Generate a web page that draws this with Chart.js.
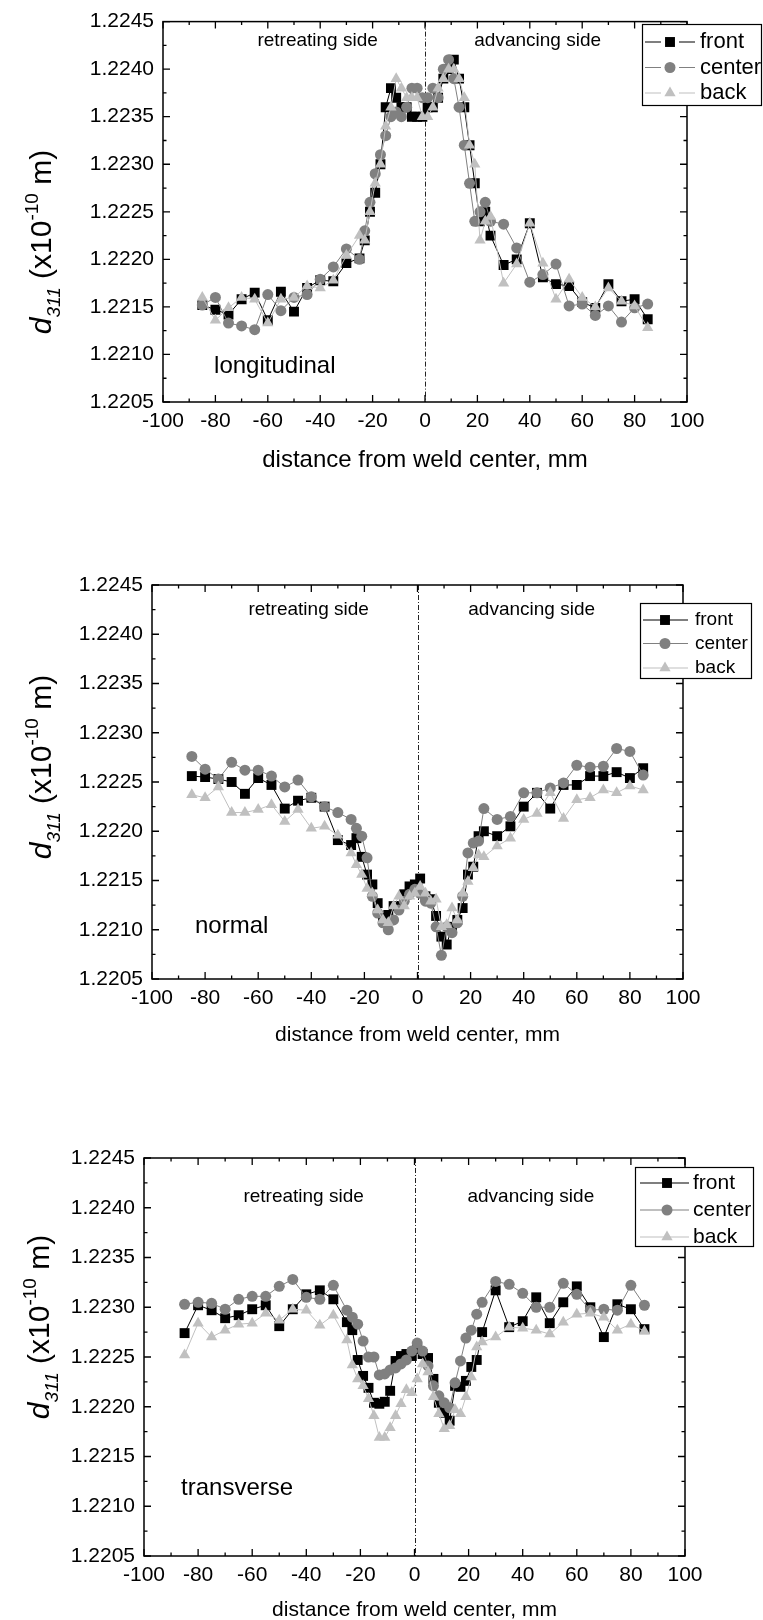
<!DOCTYPE html>
<html>
<head>
<meta charset="utf-8">
<script src="https://cdn.jsdelivr.net/npm/chart.js@4.4.1/dist/chart.umd.min.js"></script>
<style>
  html, body { margin: 0; padding: 0; background: #fff; }
  #wrap { position: relative; width: 763px; height: 1620px; }
  canvas { position: absolute; left: 0; }
</style>
</head>
<body>
<div id="wrap">
  <canvas id="c1" width="763" height="540" style="top:0px"></canvas>
  <canvas id="c2" width="763" height="540" style="top:540px"></canvas>
  <canvas id="c3" width="763" height="540" style="top:1080px"></canvas>
</div>
<script>
/* ============================================
   DATA
   ============================================ */

const xTicks = [-100, -80, -60, -40, -20, 0, 20, 40, 60, 80, 100];
const yTicks = [1.2205, 1.2210, 1.2215, 1.2220, 1.2225, 1.2230, 1.2235, 1.2240, 1.2245];
const seriesNames = ["front", "center", "back"];
const panelNames = ["longitudinal", "normal", "transverse"];

// measurement positions, mm
const xPos = [-85, -80, -75, -70, -65, -60, -55, -50, -45, -40, -35, -30, -25,
  -23, -21, -19, -17, -15, -13, -11, -9, -7, -5, -3, -1,
  1, 3, 5, 7, 9, 11, 13, 15, 17, 19, 21, 23,
  25, 30, 35, 40, 45, 50, 55, 60, 65, 70, 75, 80, 85];

const longFront = [1.22152, 1.22147, 1.22142, 1.22158, 1.22165, 1.22136, 1.22166, 1.22145, 1.2217, 1.22178, 1.22177, 1.22196, 1.22201,
  1.2222, 1.2225, 1.2227, 1.2230, 1.2236, 1.2238, 1.2237, 1.2236, 1.2236, 1.2235, 1.2235, 1.2235,
  1.2236, 1.2236, 1.2237, 1.2239, 1.2240, 1.2241, 1.2239, 1.2236, 1.2232, 1.2228, 1.2224, 1.2225,
  1.22225, 1.22194, 1.222, 1.22238, 1.22181, 1.22174, 1.22172, 1.22155, 1.22149, 1.22174, 1.22156, 1.22158, 1.22137];
const longCenter = [1.22152, 1.2216, 1.22133, 1.2213, 1.22126, 1.22163, 1.22146, 1.2216, 1.22163, 1.22179, 1.22192, 1.22211, 1.222,
  1.2223, 1.2226, 1.2229, 1.2231, 1.2233, 1.2235, 1.22355, 1.2235, 1.2236, 1.2238, 1.2238, 1.2237,
  1.2237, 1.2238, 1.2237, 1.2240, 1.2241, 1.2239, 1.2236, 1.2232, 1.2228, 1.2224, 1.2225, 1.2226,
  1.2224, 1.22237, 1.22212, 1.22176, 1.22184, 1.22195, 1.22151, 1.22153, 1.22141, 1.22151, 1.22134, 1.22149, 1.22153];
const longBack = [1.2216, 1.22136, 1.22149, 1.2216, 1.22158, 1.22133, 1.22158, 1.2216, 1.22172, 1.2217, 1.22178, 1.22204, 1.22225,
  1.2222, 1.2225, 1.2228, 1.2230, 1.2234, 1.2236, 1.2239, 1.2238, 1.2237, 1.2237, 1.2237, 1.2235,
  1.2235, 1.2236, 1.2238, 1.2239, 1.2240, 1.2240, 1.2239, 1.2237, 1.2232, 1.2230, 1.2222, 1.2224,
  1.22245, 1.22175, 1.22195, 1.22238, 1.22196, 1.22158, 1.22179, 1.2216, 1.2215, 1.2217, 1.22156, 1.22151, 1.22128];

const normFront = [1.22256, 1.22255, 1.22253, 1.2225, 1.22238, 1.22254, 1.22247, 1.22223, 1.22231, 1.22234, 1.22225, 1.22191, 1.22186,
  1.22193, 1.22174, 1.22156, 1.22146, 1.22127, 1.22112, 1.22115, 1.22124, 1.22124, 1.22136, 1.22144, 1.22146,
  1.22152, 1.22134, 1.22131, 1.22114, 1.22093, 1.22085, 1.22103, 1.2211, 1.22122, 1.22156, 1.22164, 1.22195,
  1.222, 1.22195, 1.22205, 1.22225, 1.22239, 1.22223, 1.22247, 1.22247, 1.22256, 1.22256, 1.2226, 1.22254, 1.22264];
const normCenter = [1.22276, 1.22263, 1.22253, 1.2227, 1.22262, 1.22262, 1.22256, 1.22245, 1.22252, 1.22235, 1.22225, 1.22219, 1.22212,
  1.22203, 1.22195, 1.22173, 1.22134, 1.22117, 1.22107, 1.221, 1.2211, 1.2212, 1.22129, 1.22136, 1.22141,
  1.22137, 1.22129, 1.22127, 1.22103, 1.22074, 1.22103, 1.22097, 1.22107, 1.22134, 1.22178, 1.22188, 1.2219,
  1.22223, 1.22212, 1.22215, 1.22239, 1.22239, 1.22244, 1.22249, 1.22267, 1.22265, 1.22266, 1.22284, 1.22281, 1.22257];
const normBack = [1.22237, 1.22234, 1.22245, 1.22219, 1.22219, 1.22222, 1.22227, 1.2221, 1.22222, 1.22203, 1.22205, 1.22196, 1.22178,
  1.22166, 1.22156, 1.22142, 1.22137, 1.2212, 1.2211, 1.22107, 1.22124, 1.22134, 1.22124, 1.22134, 1.22137,
  1.22144, 1.22137, 1.22129, 1.22131, 1.22103, 1.22105, 1.22122, 1.2211, 1.22137, 1.22149, 1.22163, 1.22176,
  1.22174, 1.22185, 1.22193, 1.22212, 1.22218, 1.22239, 1.22213, 1.22232, 1.22234, 1.22242, 1.22239, 1.22246, 1.22242];

const transFront = [1.22274, 1.22302, 1.22297, 1.22289, 1.22292, 1.22298, 1.22302, 1.22281, 1.22298, 1.22313, 1.22317, 1.22308, 1.22285,
  1.22277, 1.22247, 1.22231, 1.22219, 1.22204, 1.22203, 1.22205, 1.22216, 1.22246, 1.22251, 1.22253, 1.22251,
  1.22258, 1.22253, 1.22249, 1.22228, 1.22204, 1.22194, 1.22186, 1.22221, 1.2222, 1.22226, 1.2224, 1.22247,
  1.22275, 1.22317, 1.2228, 1.22286, 1.2231, 1.22284, 1.22305, 1.22321, 1.223, 1.2227, 1.22303, 1.22298, 1.22278];
const transCenter = [1.22303, 1.22305, 1.22304, 1.22298, 1.22308, 1.22311, 1.22311, 1.22321, 1.22328, 1.2231, 1.22308, 1.22322, 1.22297,
  1.2229, 1.22283, 1.22266, 1.2225, 1.2225, 1.22232, 1.22233, 1.22237, 1.22239, 1.22243, 1.22247, 1.22256,
  1.22264, 1.22256, 1.22241, 1.22221, 1.22211, 1.22204, 1.22199, 1.22224, 1.22246, 1.22269, 1.22277, 1.22293,
  1.22305, 1.22326, 1.22323, 1.22314, 1.223, 1.223, 1.22324, 1.22313, 1.22297, 1.22298, 1.22297, 1.22322, 1.22302];
const transBack = [1.22252, 1.22284, 1.2227, 1.22277, 1.22283, 1.22284, 1.22294, 1.22287, 1.22298, 1.22297, 1.22282, 1.22292, 1.22267,
  1.22242, 1.22228, 1.22221, 1.22208, 1.22191, 1.22169, 1.22169, 1.22179, 1.22191, 1.22203, 1.22217, 1.22214,
  1.22228, 1.22243, 1.22235, 1.2221, 1.22193, 1.22178, 1.22181, 1.22197, 1.22193, 1.2221, 1.2223, 1.2226,
  1.22265, 1.2227, 1.2228, 1.22279, 1.22277, 1.22273, 1.22285, 1.22293, 1.22294, 1.2229, 1.22277, 1.22283, 1.22276];


/* ============================================
   STYLE / LAYOUT
   ============================================ */

const FONT = "'Liberation Sans', Arial, Helvetica, sans-serif";
Chart.defaults.font.family = FONT;
Chart.defaults.color = "#000";

const styles = [
  { color: "#000000", pointStyle: "rect", radius: 7 },
  { color: "#808080", pointStyle: "circle", radius: 5.5 },
  { color: "#c0c0c0", pointStyle: "triangle", radius: 6.5 }
];

// chart area and text placement for each panel (canvas-local pixels)
const panels = [
  {
    canvas: "c1", data: [longFront, longCenter, longBack],
    area: { left: 163, right: 687, top: 18, bottom: 402 },
    tickFont: 21, titleFont: 24, titleY: 460, yTitleX: 40, yTitleY: 242,
    sideY: 1.2243, nameX: -80.5, nameY: 1.22087,
    legend: { x0: 642, y0: 24, x1: 762, y1: 106, rows: [42, 67.5, 93], lx0: 645, lx1: 695, mx: 670, tx: 700, font: 22, gap: true }
  },
  {
    canvas: "c2", data: [normFront, normCenter, normBack],
    area: { left: 152, right: 683, top: 45, bottom: 439 },
    tickFont: 21, titleFont: 21, titleY: 495, yTitleX: 40, yTitleY: 227,
    sideY: 1.22425, nameX: -83.8, nameY: 1.22103,
    legend: { x0: 640, y0: 63, x1: 752, y1: 139, rows: [80, 103.5, 128], lx0: 643, lx1: 688, mx: 665, tx: 695, font: 19, gap: false }
  },
  {
    canvas: "c3", data: [transFront, transCenter, transBack],
    area: { left: 144, right: 685, top: 78, bottom: 476 },
    tickFont: 21, titleFont: 21, titleY: 530, yTitleX: 38, yTitleY: 247,
    sideY: 1.22411, nameX: -86.3, nameY: 1.22118,
    legend: { x0: 635, y0: 87, x1: 754, y1: 167, rows: [103, 130, 157], lx0: 640, lx1: 689, mx: 667, tx: 693, font: 21, gap: false }
  }
];


/* ============================================
   DECORATION PLUGIN (frame, ticks, texts, legend)
   ============================================ */

function minorsOf(arr) {
  const out = [];
  for (let i = 0; i < arr.length - 1; i++) out.push((arr[i] + arr[i + 1]) / 2);
  return out;
}

function drawYTitle(ctx, cx, cy, size) {
  const small = Math.round(size * 0.62);
  const parts = [
    { t: "d", f: "italic " + size + "px " + FONT, dy: 0 },
    { t: "311", f: "italic " + small + "px " + FONT, dy: size * 0.3 },
    { t: " (x10", f: size + "px " + FONT, dy: 0 },
    { t: "-10", f: small + "px " + FONT, dy: -size * 0.42 },
    { t: " m)", f: size + "px " + FONT, dy: 0 }
  ];
  let w = 0;
  parts.forEach(p => { ctx.font = p.f; p.w = ctx.measureText(p.t).width; w += p.w; });
  ctx.save();
  ctx.translate(cx, cy);
  ctx.rotate(-Math.PI / 2);
  ctx.fillStyle = "#000";
  ctx.textBaseline = "alphabetic";
  ctx.textAlign = "left";
  let x = -w / 2;
  const base = size * 0.36;
  parts.forEach(p => {
    ctx.font = p.f;
    ctx.fillText(p.t, x, base + p.dy);
    x += p.w;
  });
  ctx.restore();
}

const decor = {
  id: "decor",
  beforeDatasetsDraw(chart, args, p) {
    const { ctx, chartArea: a, scales: { x } } = chart;
    const x0 = Math.round(x.getPixelForValue(0)) + 0.5;
    ctx.save();
    ctx.strokeStyle = "#222";
    ctx.lineWidth = 1;
    ctx.setLineDash([5, 2, 1, 2]);
    ctx.beginPath();
    ctx.moveTo(x0, a.top);
    ctx.lineTo(x0, a.bottom);
    ctx.stroke();
    ctx.restore();
  },
  afterDatasetsDraw(chart, args, p) {
    const { ctx, chartArea: a, scales: { x, y } } = chart;
    ctx.save();

    // frame with inward ticks on all four sides
    ctx.strokeStyle = "#000";
    ctx.lineWidth = 1.5;
    ctx.strokeRect(a.left, a.top, a.right - a.left, a.bottom - a.top);
    ctx.lineWidth = 1.3;
    ctx.beginPath();
    const xt = xTicks.map(v => [v, 7]).concat(minorsOf(xTicks).map(v => [v, 3.5]));
    xt.forEach(([v, len]) => {
      const px = x.getPixelForValue(v);
      ctx.moveTo(px, a.bottom); ctx.lineTo(px, a.bottom - len);
      ctx.moveTo(px, a.top); ctx.lineTo(px, a.top + len);
    });
    const yt = yTicks.map(v => [v, 7]).concat(minorsOf(yTicks).map(v => [v, 3.5]));
    yt.forEach(([v, len]) => {
      const py = y.getPixelForValue(v);
      ctx.moveTo(a.left, py); ctx.lineTo(a.left + len, py);
      ctx.moveTo(a.right, py); ctx.lineTo(a.right - len, py);
    });
    ctx.stroke();

    // side labels and panel name
    ctx.fillStyle = "#000";
    ctx.textBaseline = "middle";
    ctx.textAlign = "center";
    ctx.font = "19px " + FONT;
    ctx.fillText("retreating side", x.getPixelForValue(-41), y.getPixelForValue(p.sideY));
    ctx.fillText("advancing side", x.getPixelForValue(43), y.getPixelForValue(p.sideY));
    ctx.textAlign = "left";
    ctx.font = "24px " + FONT;
    ctx.fillText(p.name, x.getPixelForValue(p.nameX), y.getPixelForValue(p.nameY));

    // axis titles
    ctx.textAlign = "center";
    ctx.font = p.titleFont + "px " + FONT;
    ctx.fillText("distance from weld center, mm", (a.left + a.right) / 2, p.titleY);
    drawYTitle(ctx, p.yTitleX, p.yTitleY, 30);

    // legend box
    const L = p.legend;
    ctx.fillStyle = "#fff";
    ctx.fillRect(L.x0, L.y0, L.x1 - L.x0, L.y1 - L.y0);
    ctx.strokeStyle = "#000";
    ctx.lineWidth = 1.2;
    ctx.strokeRect(L.x0 + 0.5, L.y0 + 0.5, L.x1 - L.x0 - 1, L.y1 - L.y0 - 1);
    chart.data.datasets.forEach((ds, i) => {
      const ry = L.rows[i];
      ctx.strokeStyle = ds.borderColor;
      ctx.lineWidth = 1.2;
      ctx.beginPath();
      if (L.gap) {
        ctx.moveTo(L.lx0, ry); ctx.lineTo(L.mx - 9, ry);
        ctx.moveTo(L.mx + 9, ry); ctx.lineTo(L.lx1, ry);
      } else {
        ctx.moveTo(L.lx0, ry); ctx.lineTo(L.lx1, ry);
      }
      ctx.stroke();
      ctx.fillStyle = ds.pointBackgroundColor;
      Chart.helpers.drawPoint(ctx, { pointStyle: ds.pointStyle, radius: ds.pointRadius, rotation: 0, borderWidth: 0 }, L.mx, ry);
      ctx.fillStyle = "#000";
      ctx.textAlign = "left";
      ctx.textBaseline = "middle";
      ctx.font = L.font + "px " + FONT;
      ctx.fillText(ds.label, L.tx, ry);
    });
    ctx.restore();
  }
};


/* ============================================
   CHARTS
   ============================================ */

panels.forEach((p, k) => {
  const H = 540;
  const xh = 40;
  const datasets = p.data.map((vals, i) => ({
    label: seriesNames[i],
    data: vals.map((v, j) => ({ x: xPos[j], y: v })),
    borderColor: styles[i].color,
    backgroundColor: styles[i].color,
    pointBackgroundColor: styles[i].color,
    pointBorderColor: styles[i].color,
    pointBorderWidth: 0,
    pointStyle: styles[i].pointStyle,
    pointRadius: styles[i].radius,
    borderWidth: 1,
    tension: 0,
    order: 3 - i
  }));

  new Chart(document.getElementById(p.canvas), {
    type: "line",
    data: { datasets: datasets },
    plugins: [decor],
    options: {
      responsive: false,
      animation: false,
      devicePixelRatio: 1,
      layout: {
        padding: { left: 0, top: p.area.top, right: 763 - p.area.right, bottom: H - p.area.bottom - xh }
      },
      plugins: {
        legend: { display: false },
        tooltip: { enabled: false },
        decor: Object.assign({ name: panelNames[k] }, p)
      },
      scales: {
        x: {
          type: "linear",
          min: -100,
          max: 100,
          grid: { display: false, drawTicks: false },
          border: { display: false },
          afterBuildTicks: s => { s.ticks = xTicks.map(v => ({ value: v })); },
          afterFit: s => { s.height = xh; },
          ticks: {
            padding: 7,
            color: "#000",
            maxRotation: 0,
            autoSkip: false,
            font: { size: p.tickFont },
            callback: v => String(v)
          }
        },
        y: {
          type: "linear",
          min: yTicks[0],
          max: yTicks[yTicks.length - 1],
          grid: { display: false, drawTicks: false },
          border: { display: false },
          afterBuildTicks: s => { s.ticks = yTicks.map(v => ({ value: v })); },
          afterFit: s => { s.width = p.area.left; },
          ticks: {
            padding: 9,
            color: "#000",
            autoSkip: false,
            font: { size: p.tickFont },
            callback: v => v.toFixed(4)
          }
        }
      }
    }
  });
});
</script>
</body>
</html>
